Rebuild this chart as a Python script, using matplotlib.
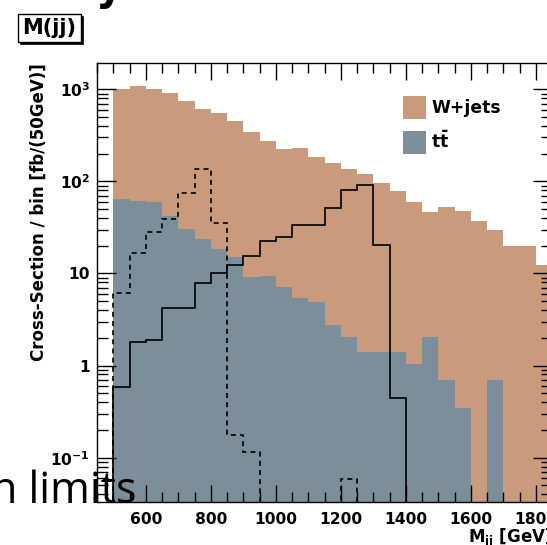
import numpy as np
import matplotlib.pyplot as plt
from matplotlib.patches import Rectangle, Patch
from matplotlib.ticker import MultipleLocator, LogLocator, FuncFormatter, NullFormatter

plt.rcParams['font.family'] = 'DejaVu Sans'
plt.rcParams['font.weight'] = 'bold'
plt.rcParams['axes.labelweight'] = 'bold'
plt.rcParams['mathtext.default'] = 'bf'

# 50 GeV bins from 500 to 1850 GeV
bin_edges = np.arange(500, 1851, 50)

# cross-section per bin [fb/(50 GeV)]
ttbar = [64.4, 61.7, 59.4, 42.5, 30.5, 23.6, 18.5, 15.1, 9.1, 9.4,
         7.2, 5.45, 4.87, 2.75, 2.03, 1.40, 1.40, 1.40, 1.03, 2.05,
         0.69, 0.35, 0, 0.69, 0, 0, 0]
wjets = [951, 1024, 941, 862, 722, 587, 530, 441, 337, 267,
         216, 227, 178, 154, 134, 119, 95, 78, 59, 44,
         52, 47.5, 37, 29, 20, 20, 12.5]
# signal shapes (no legend entry visible)
sig_solid = [0.58, 1.81, 1.88, 4.27, 4.27, 7.9, 10.2, 12.4, 15.6, 22.5,
             25.2, 34, 34, 52, 81, 91, 20.4, 0.44, 0, 0,
             0, 0, 0, 0, 0, 0, 0]
sig_dashed = [6.1, 16.8, 27.9, 38.6, 74.3, 138, 35, 0.177, 0.116, 0,
              0, 0, 0, 0, 0.058, 0, 0, 0, 0, 0,
              0, 0, 0, 0, 0, 0, 0]

brown = '#c99b7c'
blue = '#7b8e9a'

fig = plt.figure(figsize=(5.47, 5.45), dpi=100)
# frame runs a little past the right edge of the picture (cropped slide)
ax = fig.add_axes([97 / 547, 1 - 502 / 545, (552 - 97) / 547, (502 - 63) / 545])
ax.set_yscale('log', nonpositive='clip')

total = np.array(ttbar) + np.array(wjets)
ax.stairs(total, bin_edges, fill=True, color=brown, baseline=1e-3, lw=0)
ax.stairs(ttbar, bin_edges, fill=True, color=blue, baseline=1e-3, lw=0)
ax.stairs(sig_solid, bin_edges, color='black', lw=1.2, baseline=1e-3)
ax.stairs(sig_dashed, bin_edges, color='black', lw=1.2, baseline=1e-3,
          linestyle=(0, (3, 2.5)))

ax.set_xlim(450, 1850)
ax.set_ylim(0.033, 1930)

ax.xaxis.set_major_locator(MultipleLocator(200))
ax.xaxis.set_minor_locator(MultipleLocator(50))
ax.yaxis.set_major_locator(LogLocator(base=10))
ax.yaxis.set_minor_locator(LogLocator(base=10, subs=np.arange(2, 10)))
ax.yaxis.set_minor_formatter(NullFormatter())


def log_label(v, pos):
    e = int(round(np.log10(v)))
    if e == 0:
        return '1'
    if e == 1:
        return '10'
    return '$10^{%d}$' % e


ax.yaxis.set_major_formatter(FuncFormatter(log_label))

ax.tick_params(which='both', direction='in', top=True, right=True, width=1)
ax.tick_params(axis='x', which='major', length=12, labelsize=11.2, pad=7)
ax.tick_params(axis='x', which='minor', length=7)
ax.tick_params(axis='y', which='major', length=14, labelsize=11.2, pad=5)
ax.tick_params(axis='y', which='minor', length=8)
for s in ax.spines.values():
    s.set_linewidth(1.0)

ax.set_ylabel('Cross-Section / bin [fb/(50GeV)]', fontsize=12, loc='top', labelpad=2)
ax.set_xlabel('M$_{jj}$ [GeV]', fontsize=12, loc='right', labelpad=0)

handles = [Patch(facecolor=brown), Patch(facecolor=blue)]
ax.legend(handles, ['W+jets', r'$t\bar{t}$'], loc='upper left',
          bbox_to_anchor=((403 - 97) / 455, 1 - (96 - 63) / 439),
          frameon=False, fontsize=12.3, borderpad=0, borderaxespad=0,
          handlelength=1.35, handleheight=1.7, labelspacing=0.7,
          handletextpad=0.3)

# M(jj) title box with shadow
W, H = 547, 545
fig.patches.append(Rectangle((20 / W, 1 - 44 / H), 63 / W, 28 / H,
                             transform=fig.transFigure, facecolor='black',
                             edgecolor='black', lw=0.5, zorder=1))
fig.patches.append(Rectangle((17.5 / W, 1 - 41.5 / H), 63 / W, 28 / H,
                             transform=fig.transFigure, facecolor='white',
                             edgecolor='black', lw=1, zorder=2))
fig.text(49 / W, 1 - 28 / H, 'M(jj)', fontsize=15, ha='center', va='center', zorder=3)

# fragments of the slide text around the plot
fig.text(96 / W, 1.0, 'y', fontsize=30, ha='left', va='baseline')
fig.text(-9 / W, 1 - 503 / H, 'n limits', family='Open Sans', fontweight='normal',
         fontsize=31, ha='left', va='baseline', zorder=10)

fig.savefig('out.png', dpi=100)
